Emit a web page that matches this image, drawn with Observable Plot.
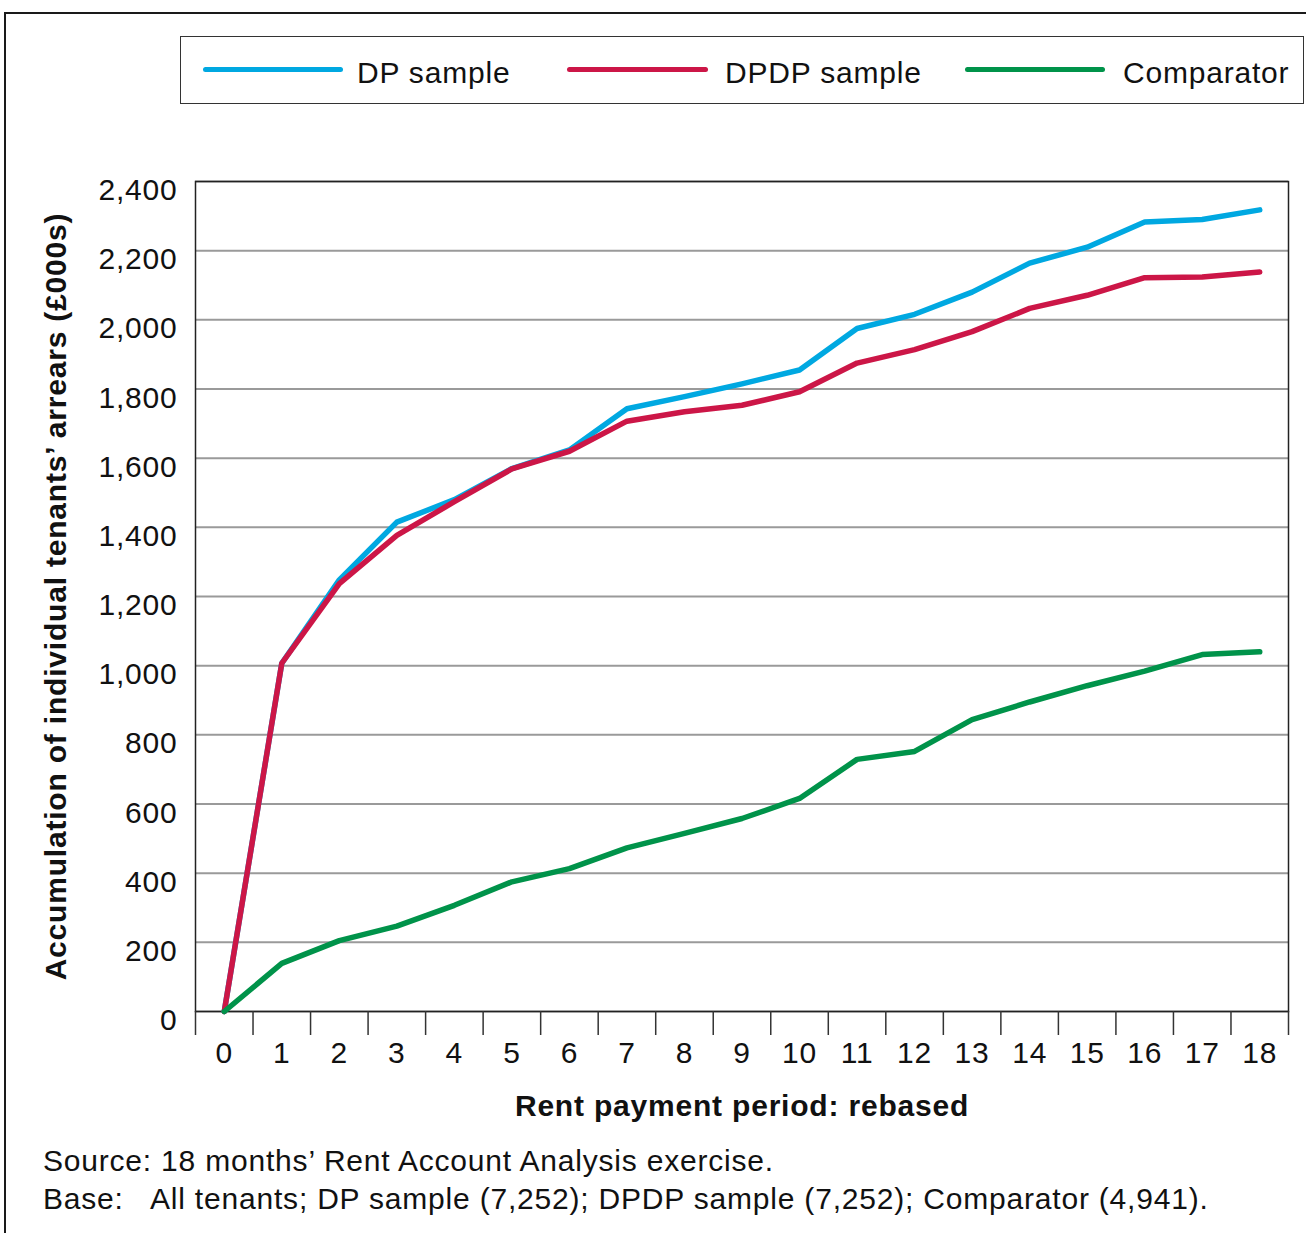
<!DOCTYPE html>
<html><head><meta charset="utf-8">
<script src="https://cdn.jsdelivr.net/npm/d3@7"></script>
<script src="https://cdn.jsdelivr.net/npm/@observablehq/plot@0.6"></script>
<style>
html,body{margin:0;padding:0;background:#fff;}
body{width:1306px;height:1233px;overflow:hidden;position:relative;font-family:"Liberation Sans",Arial,sans-serif;letter-spacing:0.8px;color:#111;}
#frame{position:absolute;left:4px;top:12px;width:2000px;height:2000px;border:2.5px solid #1a1a1a;box-sizing:border-box;}
#legend{position:absolute;left:180px;top:36px;width:1124px;height:68px;border:1.5px solid #333;box-sizing:border-box;}
.swatch{position:absolute;height:5px;border-radius:3px;}
.txt{position:absolute;font-size:30px;line-height:30px;white-space:pre;}
#chart{position:absolute;left:0;top:150px;}
</style></head>
<body>
<div id="frame"></div>
<div id="legend"></div>
<div id="legendItems"></div>
<div id="chart"></div>
<div class="txt" id="cap1" style="left:43px;top:1146px;"></div>
<div class="txt" id="cap2a" style="left:43px;top:1184px;"></div>
<div class="txt" id="cap2b" style="left:150px;top:1184px;"></div>
<script>
const periods = [0,1,2,3,4,5,6,7,8,9,10,11,12,13,14,15,16,17,18];
const dpSample   = [0,1007,1248,1415,1480,1570,1624,1743,1778,1815,1855,1975,2016,2080,2164,2210,2283,2290,2318];
const dpdpSample = [0,1007,1237,1377,1474,1569,1620,1707,1734,1753,1792,1875,1914,1966,2033,2071,2122,2124,2138];
const comparator = [0,139,205,247,307,375,413,473,515,558,616,729,752,844,895,942,984,1032,1040];
const yTicks = [0,200,400,600,800,1000,1200,1400,1600,1800,2000,2200,2400];
const seriesNames = ["DP sample","DPDP sample","Comparator"];
const seriesColors = ["#00a8e1","#cc1647","#00934a"];
const xTitle = "Rent payment period: rebased";
const yTitle = "Accumulation of individual tenants\u2019 arrears (\u00a3000s)";
const caption1 = "Source: 18 months\u2019 Rent Account Analysis exercise.";
const caption2a = "Base:";
const caption2b = "All tenants; DP sample (7,252); DPDP sample (7,252); Comparator (4,941).";

const rows = [];
[dpSample, dpdpSample, comparator].forEach((vals, s) =>
  periods.forEach((p, i) => rows.push({period: p, value: vals[i], series: seriesNames[s]})));
const boundaries = periods.map(p => p - 0.5).concat([periods[periods.length - 1] + 0.5]);

const chart = Plot.plot({
  width: 1306, height: 980,
  marginLeft: 195, marginRight: 18, marginTop: 31, marginBottom: 119,
  style: {fontFamily: "'Liberation Sans', Arial, sans-serif", letterSpacing: "0.8px", color: "#111", background: "transparent", overflow: "visible"},
  x: {domain: [boundaries[0], boundaries[boundaries.length - 1]]},
  y: {domain: [0, 2400]},
  color: {domain: seriesNames, range: seriesColors},
  marks: [
    Plot.gridY(yTicks, {stroke: "#9a9a9a", strokeOpacity: 1, strokeWidth: 2}),
    Plot.frame({stroke: "#222", strokeWidth: 1.5}),
    Plot.axisY(yTicks, {tickSize: 0, tickPadding: 18, tickFormat: d3.format(","), fontSize: 30, dy: 9, label: null}),
    Plot.axisX(boundaries, {tickSize: 24, tickFormat: () => "", stroke: "#333", strokeWidth: 1.5, label: null}),
    Plot.axisX(periods, {tickSize: 0, tickPadding: 30, tickFormat: d => String(d), fontSize: 30, label: null}),
    Plot.line(rows, {x: "period", y: "value", z: "series", stroke: "series", strokeWidth: 5.5, strokeLinejoin: "round", strokeLinecap: "round"}),
    Plot.text([xTitle], {text: d => d, frameAnchor: "bottom", dy: 104, fontWeight: "bold", fontSize: 30}),
    Plot.text([yTitle], {text: d => d, frameAnchor: "left", textAnchor: "middle", dx: -139, rotate: -90, fontWeight: "bold", fontSize: 30})
  ]
});
document.getElementById("chart").appendChild(chart);

// legend
const legendLayout = [{line: 203, w: 140, text: 357}, {line: 567, w: 141, text: 725}, {line: 965, w: 140, text: 1123}];
const li = document.getElementById("legendItems");
seriesNames.forEach((name, i) => {
  const sw = document.createElement("div");
  sw.className = "swatch";
  sw.style.cssText = `left:${legendLayout[i].line}px;top:67px;width:${legendLayout[i].w}px;background:${seriesColors[i]};`;
  li.appendChild(sw);
  const t = document.createElement("div");
  t.className = "txt";
  t.style.cssText = `left:${legendLayout[i].text}px;top:58px;`;
  t.textContent = name;
  li.appendChild(t);
});
document.getElementById("cap1").textContent = caption1;
document.getElementById("cap2a").textContent = caption2a;
document.getElementById("cap2b").textContent = caption2b;
</script>
</body></html>
